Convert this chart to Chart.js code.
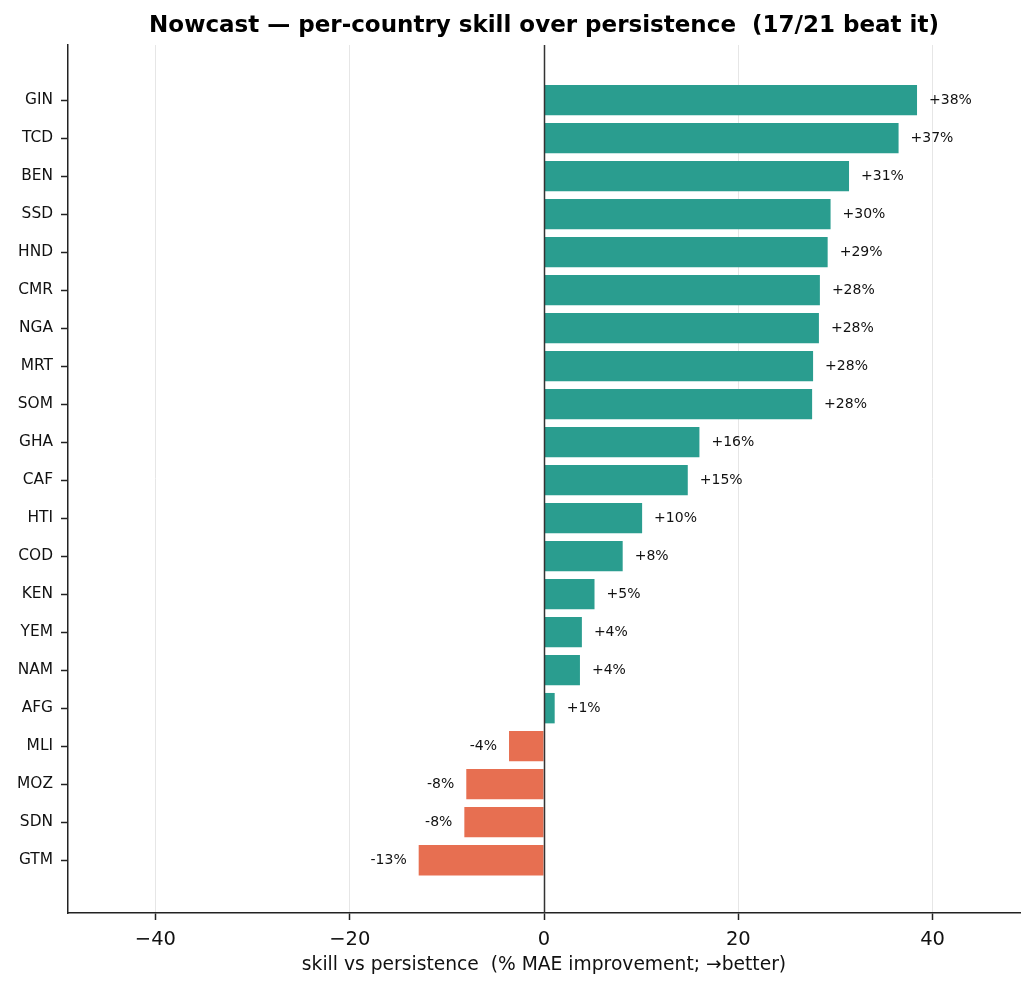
<!DOCTYPE html>
<html>
<head>
<meta charset="utf-8">
<script src="https://cdn.jsdelivr.net/npm/chart.js@4.4.1/dist/chart.umd.min.js"></script>
<style>
  body { margin: 0; background: #fff; }
  #wrap { width: 1034px; height: 991px; }
</style>
</head>
<body>
<div id="wrap"><canvas id="skillChart" width="1034" height="991"></canvas></div>
<script>
// Data
const countries = ['GIN', 'TCD', 'BEN', 'SSD', 'HND', 'CMR', 'NGA', 'MRT', 'SOM', 'GHA', 'CAF',
                   'HTI', 'COD', 'KEN', 'YEM', 'NAM', 'AFG', 'MLI', 'MOZ', 'SDN', 'GTM'];
const skill = [38.4, 36.5, 31.4, 29.5, 29.2, 28.4, 28.3, 27.7, 27.6, 16.0, 14.8,
               10.1, 8.1, 5.2, 3.9, 3.7, 1.1, -3.6, -8.0, -8.2, -12.9];
const xTicks = [-40, -20, 0, 20, 40];

const TITLE = 'Nowcast — per-country skill over persistence  (17/21 beat it)';
const POS = '#2a9d8f';
const NEG = '#e76f51';
const FONT = "'DejaVu Sans', sans-serif";

// value labels next to each bar
const valueLabels = {
    id: 'valueLabels',
    afterDatasetsDraw(chart) {
        const ctx = chart.ctx;
        const meta = chart.getDatasetMeta(0);
        ctx.save();
        ctx.font = '14px ' + FONT;
        ctx.fillStyle = '#111';
        ctx.textBaseline = 'middle';
        meta.data.forEach((bar, i) => {
            const v = skill[i];
            const txt = (v >= 0 ? '+' : '') + Math.round(v) + '%';
            if (v >= 0) {
                ctx.textAlign = 'left';
                ctx.fillText(txt, bar.x + 12, bar.y);
            } else {
                ctx.textAlign = 'right';
                ctx.fillText(txt, bar.x - 12, bar.y);
            }
        });
        ctx.restore();
    }
};

// dark line at zero + title centred over the plot area
const zeroLine = {
    id: 'zeroLine',
    afterDatasetsDraw(chart) {
        const { ctx, chartArea, scales } = chart;
        const x = Math.round(scales.x.getPixelForValue(0)) + 0.5;
        ctx.save();
        ctx.strokeStyle = '#333';
        ctx.lineWidth = 1.5;
        ctx.beginPath();
        ctx.moveTo(x, chartArea.top);
        ctx.lineTo(x, chartArea.bottom);
        ctx.stroke();

        ctx.font = 'bold 23px ' + FONT;
        ctx.fillStyle = '#000';
        ctx.textAlign = 'center';
        ctx.textBaseline = 'middle';
        ctx.fillText(TITLE, (chartArea.left + chartArea.right) / 2, 26);
        ctx.restore();
    }
};

const ctx = document.getElementById('skillChart').getContext('2d');
const chart = new Chart(ctx, {
    type: 'bar',
    data: {
        datasets: [{
            data: skill.map((v, i) => ({ x: v, y: i })),
            backgroundColor: skill.map(v => v >= 0 ? POS : NEG),
            borderWidth: 0,
            barPercentage: 0.8,
            categoryPercentage: 1.0
        }]
    },
    options: {
        indexAxis: 'y',
        responsive: false,
        animation: false,
        devicePixelRatio: 1,
        layout: { padding: { top: 45, right: 14, bottom: 0, left: 0 } },
        plugins: {
            legend: { display: false },
            tooltip: { enabled: false },
            title: { display: false }
        },
        scales: {
            x: {
                type: 'linear',
                min: -49,
                max: 49,
                afterBuildTicks: scale => { scale.ticks = xTicks.map(v => ({ value: v })); },
                afterFit: scale => { scale.height = 78; },
                grid: {
                    color: '#e6e6e6',
                    tickColor: '#222',
                    tickLength: 7,
                    tickWidth: 1.5,
                    drawTicks: true
                },
                border: { display: true, color: '#222', width: 1.5 },
                ticks: {
                    color: '#111',
                    padding: 8,
                    font: { family: FONT, size: 19.5 },
                    callback: v => (v < 0 ? '\u2212' + Math.abs(v) : String(v))
                },
                title: {
                    display: true,
                    text: 'skill vs persistence  (% MAE improvement; →better)',
                    color: '#111',
                    font: { family: FONT, size: 18.7 },
                    padding: { top: 2, bottom: 15 }
                }
            },
            y: {
                type: 'linear',
                reverse: true,
                offset: false,
                min: -1.45,
                max: 21.39,
                afterBuildTicks: scale => { scale.ticks = countries.map((c, i) => ({ value: i })); },
                afterFit: scale => { scale.width = 68; },
                grid: {
                    offset: false,
                    drawOnChartArea: false,
                    drawTicks: true,
                    tickLength: 7,
                    tickWidth: 1.5,
                    tickColor: '#222'
                },
                border: { display: true, color: '#222', width: 1.5 },
                ticks: {
                    color: '#111',
                    padding: 8,
                    autoSkip: false,
                    font: { family: FONT, size: 15.4 },
                    callback: v => countries[v] || ''
                }
            }
        }
    },
    plugins: [valueLabels, zeroLine]
});
</script>
</body>
</html>
